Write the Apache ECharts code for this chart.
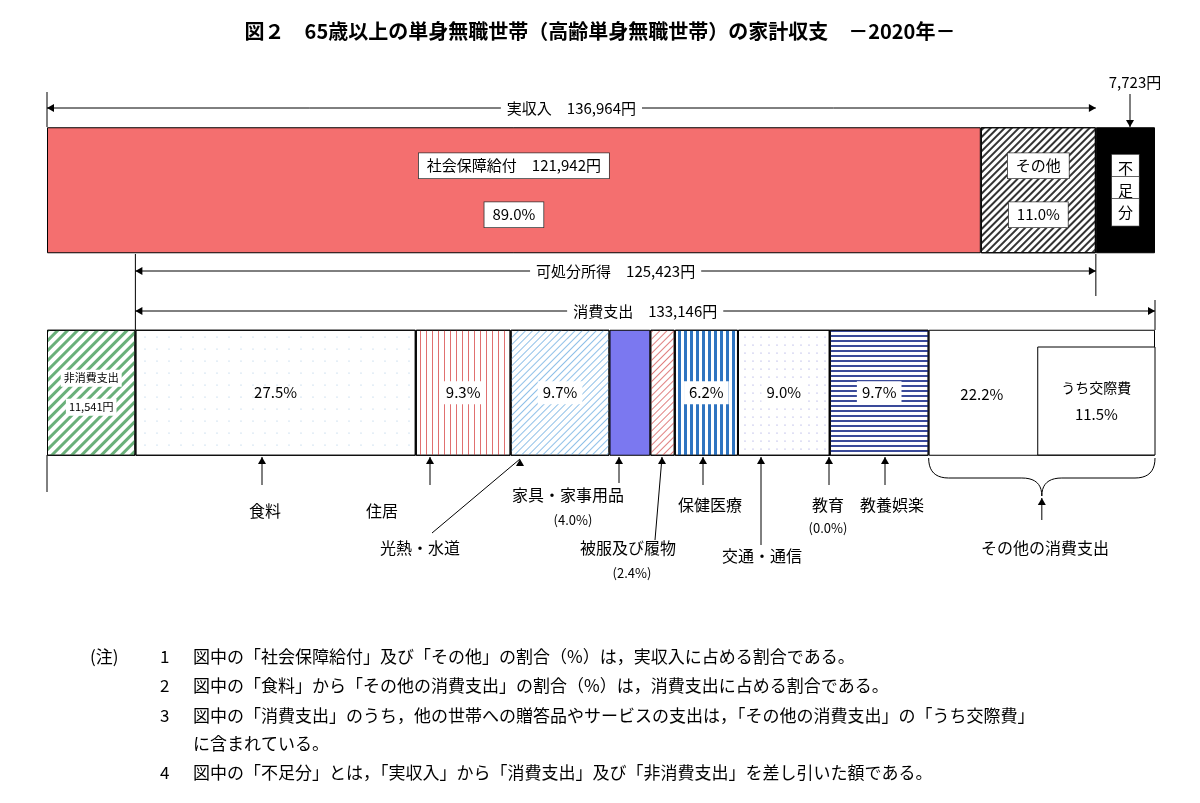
<!DOCTYPE html>
<html><head><meta charset="utf-8">
<script src="https://cdn.jsdelivr.net/npm/echarts@6/dist/echarts.min.js"></script>
<style>html,body{margin:0;background:#fff}#c{width:1200px;height:803px}</style>
</head><body><div id="c"></div>
<script>
const incomeNames = ['社会保障給付','その他','不足分'];
const incomeValues = [121942, 15022, 7723];
const incomeTotal = 136964;
const disposable = 125423;
const consumption = 133146;
const nonConsumption = 11541;
const expNames = ['食料','住居','光熱・水道','家具・家事用品','被服及び履物','保健医療','交通・通信','教育','教養娯楽','その他の消費支出'];
const expPct = [27.5, 9.3, 9.7, 4.0, 2.4, 6.2, 9.0, 0.0, 9.7, 22.2];
const socialPct = 11.5; // うち交際費

const F = '"Noto Sans CJK JP", sans-serif';
const chart = echarts.init(document.getElementById('c'));
const border = {borderColor:'#000', borderWidth:1};
function decal(o){return Object.assign({symbol:'rect', symbolSize:1}, o);}
const styles = [
  {color:'#f46f6f'},
  {color:'#fff', decal:decal({color:'#333', dashArrayX:[1,0], dashArrayY:[2,3], rotation:-Math.PI/4})},
  {color:'#000'},
];
const expStyles = [
  {color:'#fff', decal:{symbol:'circle', symbolSize:0.6, color:'#9ec4e0', dashArrayX:[[2,10]], dashArrayY:[2,10]}},
  {color:'#fff', decal:decal({color:'#e07070', dashArrayX:[[1,5]], dashArrayY:[10,0]})},
  {color:'#fff', decal:decal({color:'#8fc0e8', dashArrayX:[1,0], dashArrayY:[1,4], rotation:-Math.PI/4})},
  {color:'#7b78f0'},
  {color:'#fff', decal:decal({color:'#e08080', dashArrayX:[1,0], dashArrayY:[1,4], rotation:-Math.PI/4})},
  {color:'#fff', decal:decal({color:'#2f74c0', dashArrayX:[[3,3]], dashArrayY:[10,0]})},
  {color:'#fff', decal:{symbol:'circle', symbolSize:0.6, color:'#8a8ad8', dashArrayX:[[2,6]], dashArrayY:[2,6]}},
  {color:'#fff'},
  {color:'#fff', decal:decal({color:'#3a4a9a', dashArrayX:[1,0], dashArrayY:[2,3]})},
  {color:'#fff'},
];
const box = {backgroundColor:'#fff', borderColor:'#333', borderWidth:0.8, padding:[5,8], fontSize:15, color:'#000', fontFamily:F};
const series = [];
const topLabels = [
  '{a|社会保障給付　121,942円}\n\n\n{a|89.0%}',
  '{a|その他}\n\n\n{a|11.0%}',
  '{b|不\n足\n分}'
];
incomeValues.forEach((v,i)=>{
  series.push({type:'bar', stack:'s', barWidth:126, name:incomeNames[i], data:[v,'-'],
    itemStyle:Object.assign({}, styles[i], border),
    label:{show:true, position:'inside', formatter:topLabels[i], rich:{a:box, b:Object.assign({},box,{lineHeight:22,padding:[6,6]})}}});
});
series.push({type:'bar', stack:'s', barWidth:126, data:['-', nonConsumption],
  itemStyle:Object.assign({color:'#fff', decal:decal({color:'#6ab07a', dashArrayX:[1,0], dashArrayY:[3,4], rotation:-Math.PI/4})}, border),
  label:{show:true, formatter:'{a|非消費支出}\n\n{a|11,541円}', rich:{a:Object.assign({},box,{fontSize:11,padding:[3,3],borderWidth:0})}}});
expPct.forEach((p,i)=>{
  const boxed = [1,2,5,6,8].includes(i);
  series.push({type:'bar', stack:'s', barWidth:126, name:expNames[i], data:['-', consumption*p/100],
    itemStyle:Object.assign({}, expStyles[i], border),
    label:{show: i!==3 && i!==4 && i!==7, position: i===9 ? ['14%','45%'] : 'inside',
      formatter: boxed ? '{a|'+p.toFixed(1)+'%}' : '{c|'+p.toFixed(1)+'%}',
      rich:{a:Object.assign({},box,{borderWidth:0,padding:[4,5]}), c:{fontSize:15,fontFamily:F,color:'#000'}}}});
});
const total = incomeValues.reduce((a,b)=>a+b,0);
chart.setOption({
  animation:false,
  grid:{left:47, right:45, top:89, height:405},
  xAxis:{type:'value', min:0, max:total, show:false},
  yAxis:{type:'category', inverse:true, data:['収入','支出'], show:false},
  series
});
const px = v => chart.convertToPixel({xAxisIndex:0}, v);
const g = [];
const T = {fontFamily:F, fontSize:15, fill:'#000'};
function line(x1,y1,x2,y2){g.push({type:'line', shape:{x1,y1,x2,y2}, style:{stroke:'#000', lineWidth:1}});}
function head(x,y,dir){
  const s=7,w=4; let pts;
  if(dir==='l') pts=[[x,y],[x+s,y-w],[x+s,y+w]];
  if(dir==='r') pts=[[x,y],[x-s,y-w],[x-s,y+w]];
  if(dir==='u') pts=[[x,y],[x-w,y+s],[x+w,y+s]];
  if(dir==='d') pts=[[x,y],[x-w,y-s],[x+w,y-s]];
  g.push({type:'polygon', shape:{points:pts}, style:{fill:'#000'}});
}
function text(x,y,t,opt){g.push({type:'text', x, y, z:10, style:Object.assign({text:t, align:'center', verticalAlign:'middle', backgroundColor:'#fff', padding:[0,6]}, T, opt||{})});}
function harrow(x1,x2,y,label){line(x1,y,x2,y); head(x1,y,'l'); head(x2,y,'r'); text((x1+x2)/2,y,label);}
const x0=px(0), xInc=px(incomeTotal), xNc=px(nonConsumption), xEnd=px(total);
line(x0,92,x0,127);
harrow(x0,xInc,108,'実収入　136,964円');
text(1135,82,'7,723円',{padding:0});
line(1130,94,1130,127); head(1130,127,'d');
line(xInc,254,xInc,296); line(xNc,254,xNc,330); line(x0,455,x0,492); line(xEnd,300,xEnd,330);
harrow(xNc,xInc,271,'可処分所得　125,423円');
harrow(xNc,xEnd,311,'消費支出　133,146円');
const xSoc = px(total - consumption*socialPct/100);
g.push({type:'rect', z:5, shape:{x:xSoc, y:347, width:xEnd-xSoc, height:108}, style:{fill:'#fff', stroke:'#000', lineWidth:1}});
text((xSoc+xEnd)/2,388,'うち交際費',{fontSize:14});
text((xSoc+xEnd)/2,414,'11.5%',{fontSize:15});
function uparrow(x1,y1,x2,y2){line(x1,y1,x2,y2); head(x2,y2,'u');}
uparrow(262,485,262,457); text(265,511,'食料',{fontSize:16});
uparrow(430,485,430,457); text(382,511,'住居',{fontSize:16});
uparrow(432,533,520,459); text(420,548,'光熱・水道',{fontSize:16});
uparrow(619,483,619,457); text(568,495,'家具・家事用品',{fontSize:16}); text(573,520,'(4.0%)',{fontSize:13});
uparrow(655,540,662,457); text(628,548,'被服及び履物',{fontSize:16}); text(632,573,'(2.4%)',{fontSize:13});
uparrow(703,485,703,457); text(710,505,'保健医療',{fontSize:16});
uparrow(761,545,761,457); text(762,556,'交通・通信',{fontSize:16});
uparrow(829,485,829,457); text(828,505,'教育',{fontSize:16}); text(828,528,'(0.0%)',{fontSize:13});
uparrow(885,485,885,457); text(892,505,'教養娯楽',{fontSize:16});
const b1=px(total-consumption*expPct[9]/100), b2=xEnd, bm=(b1+b2)/2;
function quad(p0,p1,p2){const r=[];for(let t=0;t<=1.0001;t+=0.1){r.push([(1-t)*(1-t)*p0[0]+2*(1-t)*t*p1[0]+t*t*p2[0],(1-t)*(1-t)*p0[1]+2*(1-t)*t*p1[1]+t*t*p2[1]]);}return r;}
const bp=[].concat(quad([b1,458],[b1,478],[b1+20,478]), quad([bm-20,478],[bm,478],[bm,496]), quad([bm,496],[bm,478],[bm+20,478]), quad([b2-20,478],[b2,478],[b2,458]));
g.push({type:'polyline', shape:{points:bp}, style:{stroke:'#000', fill:null, lineWidth:1}});
uparrow(bm,520,bm,498); text(1045,548,'その他の消費支出',{fontSize:16});
text(600,31,'図２　65歳以上の単身無職世帯（高齢単身無職世帯）の家計収支　－2020年－',{fontSize:20, fontWeight:'bold'});
const notes = [
 ['(注)','1','図中の「社会保障給付」及び「その他」の割合（%）は，実収入に占める割合である。'],
 ['','2','図中の「食料」から「その他の消費支出」の割合（%）は，消費支出に占める割合である。'],
 ['','3','図中の「消費支出」のうち，他の世帯への贈答品やサービスの支出は，「その他の消費支出」の「うち交際費」'],
 ['','','に含まれている。'],
 ['','4','図中の「不足分」とは，「実収入」から「消費支出」及び「非消費支出」を差し引いた額である。'],
];
const ny=[657,686,716,744,773];
notes.forEach((n,i)=>{
  if(n[0]) g.push({type:'text', x:90, y:ny[i], style:Object.assign({}, T, {text:n[0], fontSize:17, verticalAlign:'middle'})});
  if(n[1]) g.push({type:'text', x:160, y:ny[i], style:Object.assign({}, T, {text:n[1], fontSize:17, verticalAlign:'middle'})});
  g.push({type:'text', x:193, y:ny[i], style:Object.assign({}, T, {text:n[2], fontSize:17, verticalAlign:'middle'})});
});
chart.setOption({graphic:g});
</script></body></html>
